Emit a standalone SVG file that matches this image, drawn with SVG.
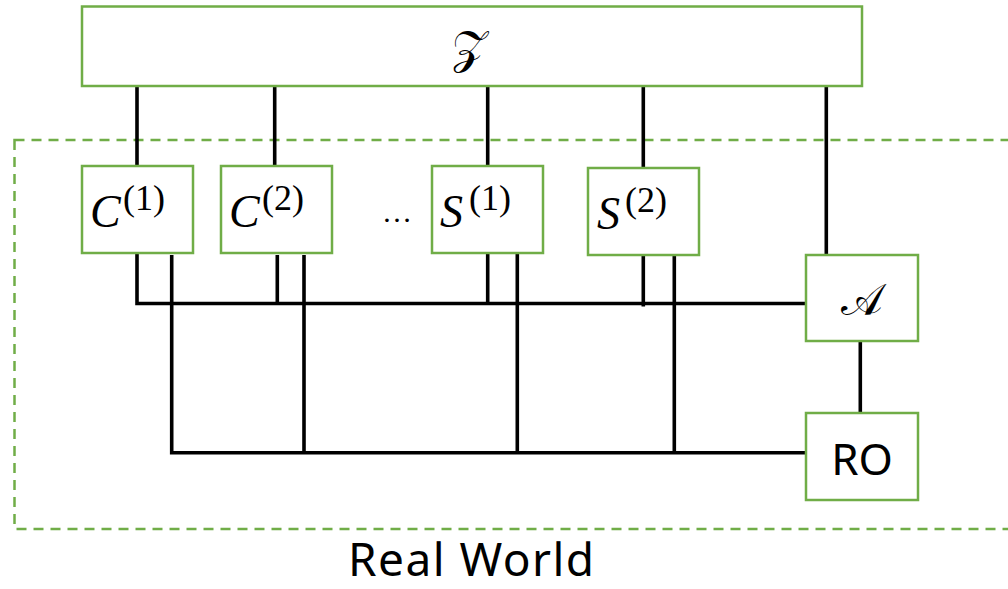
<svg xmlns="http://www.w3.org/2000/svg" width="1008" height="589" viewBox="0 0 1008 589">
<style>
.box{fill:#fff;stroke:#70AD47;stroke-width:2.5}
.dash{fill:none;stroke:#70AD47;stroke-width:2.5;stroke-dasharray:10 7}
.wire{fill:none;stroke:#000;stroke-width:3.6;stroke-linejoin:miter;stroke-linecap:butt}
.m{font-family:"Liberation Serif","DejaVu Serif",serif;fill:#000}
.mi{font-style:italic}
.s{font-family:"Noto Sans","Open Sans",sans-serif;fill:#000}
</style>
<rect class="dash" x="14.5" y="140" width="1010" height="389"/>
<g id="connectors">
<path class="wire" d="M137 86V166M274.7 86V166M487.7 86V166M643.3 86V168M826.3 86V255"/>
<path class="wire" d="M137 253V303.5H806"/>
<path class="wire" d="M277.3 255V303.5M487.7 253V303.5M643.3 255V306.5"/>
<path class="wire" d="M171.7 255V452.7H806"/>
<path class="wire" d="M304 255V452.7M517.3 253V452.7M674.3 255V452.7"/>
<path class="wire" d="M860.3 341V413"/>
</g>
<g id="Z">
<rect class="box" x="82" y="6.5" width="780" height="79.5"/>
<text class="m" x="469" y="63" font-size="46" text-anchor="middle">𝒵</text>
</g>
<g id="C1">
<rect class="box" x="82" y="166" width="111" height="87"/>
<text class="m mi" x="90" y="227" font-size="46">C</text>
<text class="m" x="123" y="210" font-size="36">(1)</text>
</g>
<g id="C2">
<rect class="box" x="221" y="166" width="111" height="87"/>
<text class="m mi" x="229" y="227" font-size="46">C</text>
<text class="m" x="262" y="210" font-size="36">(2)</text>
</g>
<text class="m" x="397" y="222" font-size="30" text-anchor="middle">…</text>
<g id="S1">
<rect class="box" x="432" y="166" width="111" height="87"/>
<text class="m mi" x="440" y="227" font-size="46">S</text>
<text class="m" x="469" y="210" font-size="36">(1)</text>
</g>
<g id="S2">
<rect class="box" x="588" y="168" width="111" height="87"/>
<text class="m mi" x="597" y="229" font-size="46">S</text>
<text class="m" x="625" y="212" font-size="36">(2)</text>
</g>
<g id="A">
<rect class="box" x="806" y="255" width="112" height="86"/>
<text class="m" x="862" y="315" font-size="44" text-anchor="middle">𝒜</text>
</g>
<g id="RO">
<rect class="box" x="806" y="413" width="112" height="87"/>
<text class="s" x="862" y="475" font-size="44" text-anchor="middle">RO</text>
</g>
<text class="s" x="348" y="576" font-size="46" textLength="246">Real World</text>
</svg>
